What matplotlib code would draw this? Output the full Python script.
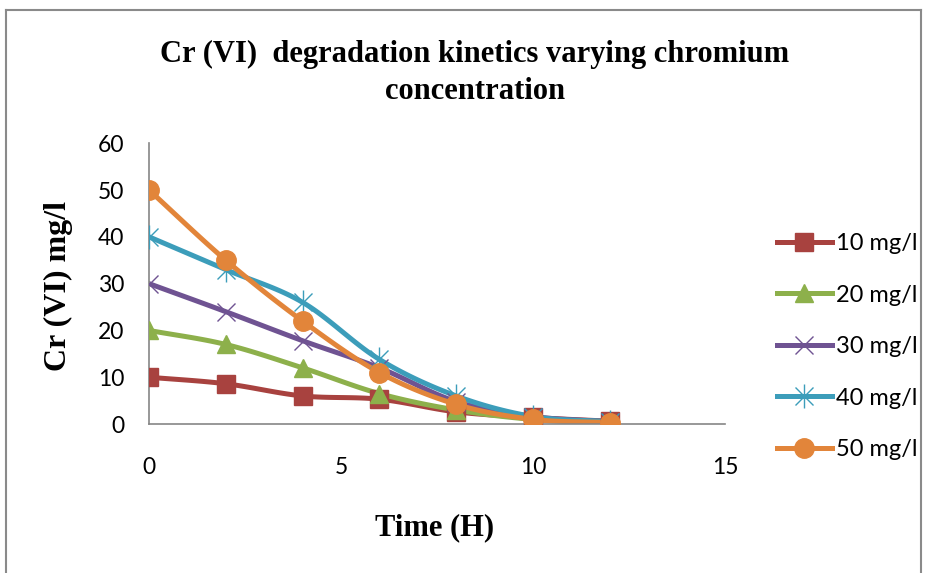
"""Cr(VI) degradation kinetics at different starting chromium concentrations."""

import matplotlib

matplotlib.use("Agg")
import matplotlib.pyplot as plt
import numpy as np
from matplotlib.legend_handler import HandlerTuple
from matplotlib.lines import Line2D

time_h = [0, 2, 4, 6, 8, 10, 12]
labels = ["10 mg/l", "20 mg/l", "30 mg/l", "40 mg/l", "50 mg/l"]
conc_10 = [10.0, 8.6, 6.0, 5.3, 2.6, 1.4, 0.6]
conc_20 = [20.0, 17.0, 12.0, 6.5, 3.0, 1.0, 0.5]
conc_30 = [30.0, 24.0, 17.8, 12.0, 4.8, 1.6, 0.5]
conc_40 = [40.0, 33.0, 26.0, 13.8, 6.0, 1.6, 0.5]
conc_50 = [50.0, 35.0, 22.0, 11.0, 4.2, 1.0, 0.3]

colors = ["#A8423F", "#8DB04B", "#6F5392", "#3C9DBA", "#E2853A"]
series = [conc_10, conc_20, conc_30, conc_40, conc_50]

SERIF = "Liberation Serif"
SANS = "Lato"


def smooth(x, y, n=20):
    """Catmull-Rom curve through the points, like Excel's smoothed line."""
    x = np.asarray(x, float)
    y = np.asarray(y, float)
    px = np.concatenate([[2 * x[0] - x[1]], x, [2 * x[-1] - x[-2]]])
    py = np.concatenate([[2 * y[0] - y[1]], y, [2 * y[-1] - y[-2]]])
    out_x, out_y = [], []
    t = np.linspace(0, 1, n, endpoint=False)
    for i in range(1, len(px) - 2):
        for p, out in ((px, out_x), (py, out_y)):
            p0, p1, p2, p3 = p[i - 1], p[i], p[i + 1], p[i + 2]
            out.extend(0.5 * (2 * p1 + (-p0 + p2) * t
                              + (2 * p0 - 5 * p1 + 4 * p2 - p3) * t**2
                              + (-p0 + 3 * p1 - 3 * p2 + p3) * t**3))
    out_x.append(x[-1])
    out_y.append(y[-1])
    return out_x, out_y


fig = plt.figure(figsize=(9.35, 5.73), dpi=100)
ax = fig.add_axes([0.1594, 0.260, 0.616, 0.490])

lw = 3.6
handles = []
for vals, col, lab in zip(series, colors, labels):
    sx, sy = smooth(time_h, vals)
    ax.plot(sx, sy, color=col, lw=lw, solid_capstyle="round", zorder=2)
    if lab == "10 mg/l":
        ax.plot(time_h, vals, ls="none", marker="s", ms=12.5, color=col, zorder=3)
        h = Line2D([], [], color=col, lw=lw, marker="s", ms=12.5)
    elif lab == "20 mg/l":
        ax.plot(time_h, vals, ls="none", marker="^", ms=13, color=col, zorder=3)
        h = Line2D([], [], color=col, lw=lw, marker="^", ms=13)
    elif lab == "30 mg/l":
        ax.plot(time_h, vals, ls="none", marker="x", ms=13, mew=1.0, color=col, zorder=3)
        h = Line2D([], [], color=col, lw=lw, marker="x", ms=13, mew=1.0)
    elif lab == "40 mg/l":
        ax.plot(time_h, vals, ls="none", marker="x", ms=13, mew=1.0, color=col, zorder=3)
        ax.plot(time_h, vals, ls="none", marker="|", ms=17, mew=1.0, color=col, zorder=3)
        h = (Line2D([], [], color=col, lw=lw, marker="x", ms=13, mew=1.0),
             Line2D([], [], ls="none", color=col, marker="|", ms=17, mew=1.0))
    else:
        ax.plot(time_h, vals, ls="none", marker="o", ms=14, color=col, zorder=3)
        h = Line2D([], [], color=col, lw=lw, marker="o", ms=14)
    handles.append(h)

ax.set_xlim(0, 15)
ax.set_ylim(0, 60)
ax.set_xticks([0, 5, 10, 15])
ax.set_yticks(range(0, 61, 10))
ax.tick_params(length=0, labelsize=16.5)
ax.tick_params(axis="x", pad=24)
ax.tick_params(axis="y", pad=18)
for lbl in ax.get_xticklabels() + ax.get_yticklabels():
    lbl.set_fontfamily(SANS)
for side in ("top", "right"):
    ax.spines[side].set_visible(False)
for side in ("left", "bottom"):
    ax.spines[side].set_color("#868686")
    ax.spines[side].set_linewidth(1.2)

# axis titles and chart title placed where they sit in the original
fig.text(0.465, 0.079, "Time (H)", ha="center", va="center",
         family=SERIF, fontweight="bold", fontsize=22)
fig.text(0.063, 0.501, "Cr (VI) mg/l", ha="center", va="center", rotation=90,
         family=SERIF, fontweight="bold", fontsize=23)
fig.text(0.508, 0.873, "Cr (VI)  degradation kinetics varying chromium\nconcentration",
         ha="center", va="center", family=SERIF, fontweight="bold", fontsize=22,
         linespacing=1.38)

ax.legend(handles, labels, loc="center left", bbox_to_anchor=(0.831, 0.395),
          bbox_transform=fig.transFigure, frameon=False, borderaxespad=0, borderpad=0,
          handlelength=2.33, handletextpad=0.17, labelspacing=1.29,
          prop={"family": SANS, "size": 17},
          handler_map={tuple: HandlerTuple(ndivide=1, pad=0)})

# chart frame (left, top and right edges visible in the screenshot)
frame = dict(color="#8A8A8A", lw=1.5, transform=fig.transFigure, clip_on=False)
fig.add_artist(Line2D([0.006, 0.006], [0.0, 0.982], **frame))
fig.add_artist(Line2D([0.006, 0.985], [0.982, 0.982], **frame))
fig.add_artist(Line2D([0.985, 0.985], [0.0, 0.982], **frame))

fig.savefig("out.png", dpi=100)
